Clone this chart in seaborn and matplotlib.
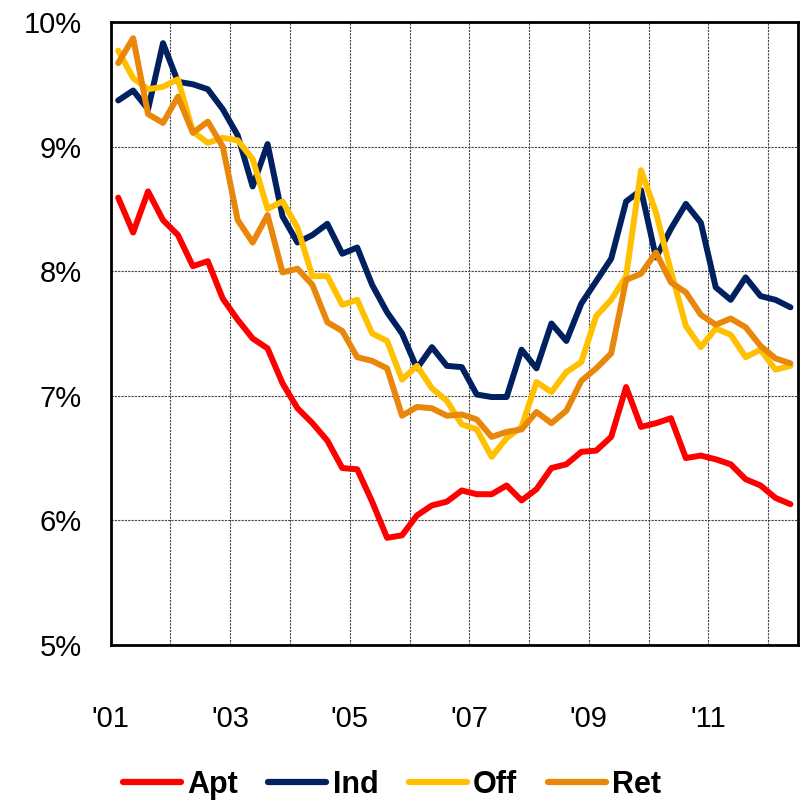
import numpy as np
import pandas as pd
import matplotlib
matplotlib.use("Agg")
import matplotlib.pyplot as plt
import seaborn as sns

# quarterly cap rates, 2001 Q1 .. 2012 Q2
apt = [8.59, 8.31, 8.64, 8.41, 8.29, 8.04, 8.08, 7.78, 7.61, 7.46, 7.38, 7.10,
       6.90, 6.78, 6.64, 6.42, 6.41, 6.15, 5.86, 5.88, 6.04, 6.12, 6.15, 6.24,
       6.21, 6.21, 6.28, 6.16, 6.25, 6.42, 6.45, 6.55, 6.56, 6.67, 7.07, 6.75,
       6.78, 6.82, 6.50, 6.52, 6.49, 6.45, 6.33, 6.28, 6.18, 6.13]
ind = [9.37, 9.45, 9.30, 9.83, 9.52, 9.50, 9.46, 9.30, 9.09, 8.68, 9.02, 8.44,
       8.23, 8.29, 8.38, 8.14, 8.19, 7.89, 7.67, 7.50, 7.22, 7.39, 7.24, 7.23,
       7.01, 6.99, 6.99, 7.37, 7.22, 7.58, 7.44, 7.74, 7.92, 8.10, 8.56, 8.65,
       8.11, 8.34, 8.54, 8.39, 7.87, 7.77, 7.95, 7.80, 7.77, 7.71]
off = [9.77, 9.55, 9.46, 9.48, 9.54, 9.12, 9.03, 9.07, 9.05, 8.90, 8.50, 8.56,
       8.35, 7.96, 7.96, 7.73, 7.77, 7.50, 7.44, 7.13, 7.24, 7.06, 6.96, 6.77,
       6.73, 6.51, 6.66, 6.75, 7.11, 7.03, 7.19, 7.27, 7.64, 7.77, 7.96, 8.81,
       8.47, 8.00, 7.56, 7.39, 7.54, 7.49, 7.31, 7.37, 7.21, 7.24]
ret = [9.67, 9.87, 9.26, 9.19, 9.40, 9.11, 9.20, 9.00, 8.41, 8.23, 8.45, 7.99,
       8.02, 7.89, 7.59, 7.52, 7.31, 7.28, 7.22, 6.84, 6.91, 6.90, 6.84, 6.85,
       6.81, 6.67, 6.71, 6.73, 6.87, 6.78, 6.88, 7.12, 7.22, 7.34, 7.93, 7.98,
       8.15, 7.91, 7.83, 7.65, 7.57, 7.62, 7.55, 7.40, 7.30, 7.26]
series_names = ["Apt", "Ind", "Off", "Ret"]
colors = ["#FF0000", "#002060", "#FFC000", "#E8870A"]
year_labels = ["'01", "", "'03", "", "'05", "", "'07", "", "'09", "", "'11", ""]

sns.set_style("white")
plt.rcParams["font.family"] = ["Liberation Sans Narrow", "Liberation Sans", "DejaVu Sans"]
plt.rcParams["text.color"] = "black"

q = np.arange(len(apt))
df = pd.DataFrame({"q": np.tile(q, 4),
                   "rate": apt + ind + off + ret,
                   "type": np.repeat(series_names, len(q))})

fig = plt.figure(figsize=(8, 8.02), dpi=100)
ax = fig.add_axes([0.1384, 0.1958, 0.859, 0.7768])
sns.lineplot(data=df, x="q", y="rate", hue="type", palette=colors,
             linewidth=4.3, ax=ax, legend=False)

ax.set_xlim(-0.5, len(q) - 0.5)
ax.set_ylim(5, 10)
ax.set_xticks(np.arange(-0.5, len(q) - 0.5, 4))
ax.set_xticklabels(year_labels, fontsize=21)
ax.set_yticks([5, 6, 7, 8, 9, 10])
ax.set_yticklabels(["5%", "6%", "7%", "8%", "9%", "10%"], fontsize=21)
ax.set_xlabel("")
ax.set_ylabel("")
ax.grid(True, color="#444444", linestyle=(0, (2, 1)), linewidth=0.8)
ax.set_axisbelow(True)
ax.tick_params(axis="both", direction="out", length=7, width=0.8,
               color="#555555", labelcolor="black")
ax.tick_params(axis="x", pad=36)
ax.tick_params(axis="y", pad=14)
for s in ax.spines.values():
    s.set_visible(True)
    s.set_color("black")
    s.set_linewidth(2)

handles = [plt.Line2D([], [], color=c, linewidth=4.5, solid_capstyle="round") for c in colors]
fig.legend(handles, series_names, loc="center", bbox_to_anchor=(0.49, 0.021),
           ncol=4, frameon=False, handlelength=1.9, handletextpad=0.2,
           columnspacing=1.0, prop={"size": 22, "weight": "bold"})

fig.savefig("out.png", dpi=100)
